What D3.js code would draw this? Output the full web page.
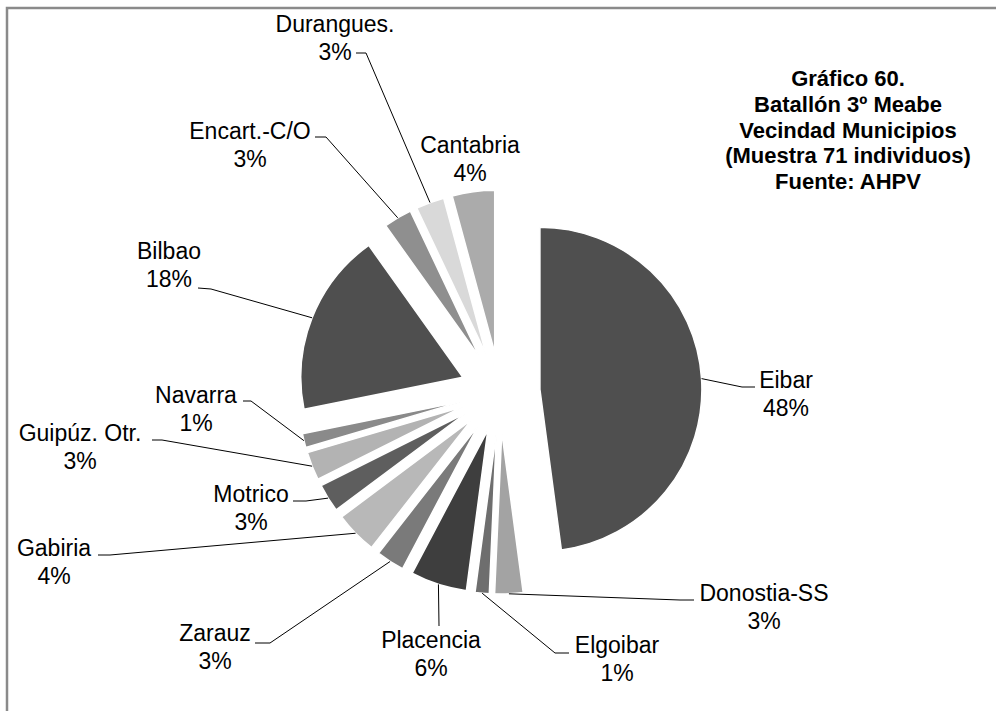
<!DOCTYPE html>
<html>
<head>
<meta charset="utf-8">
<script src="https://cdn.jsdelivr.net/npm/d3@7"></script>
<style>
html,body{margin:0;padding:0;background:#fff;}
svg{display:block;}
text{font-family:"Liberation Sans",Arial,sans-serif;fill:#000;}
</style>
</head>
<body>
<div id="chart"></div>
<script>
// ---- data ----
const categories = ["Eibar","Donostia-SS","Elgoibar","Placencia","Zarauz","Gabiria","Motrico","Guipúz. Otr.","Navarra","Bilbao","Encart.-C/O","Durangues.","Cantabria"];
const counts = [34,2,1,4,2,3,2,2,1,13,2,2,3];
const sliceColors = ["#4f4f4f","#a3a3a3","#6e6e6e","#3e3e3e","#7a7a7a","#b8b8b8","#5e5e5e","#b3b3b3","#8a8a8a","#4f4f4f","#8f8f8f","#d9d9d9","#ababab"];
const titleLines = ["Gráfico 60.","Batallón 3º Meabe","Vecindad Municipios","(Muestra 71 individuos)","Fuente: AHPV"];

// ---- layout (label placement, not data) ----
const labelLayout = [
  {x:786, y:380, elbow:[742,387], end:[755,387]},
  {x:764, y:593, elbow:[680,600], end:[694,600]},
  {x:617, y:645, elbow:[555,653], end:[569,653]},
  {x:431, y:640, elbow:[439,626], end:[439,626]},
  {x:215, y:633, elbow:[270,643], end:[255,643]},
  {x:54,  y:548, elbow:[110,555], end:[98,555]},
  {x:251, y:494, elbow:[306,501], end:[293,501]},
  {x:80,  y:433, elbow:[162,440], end:[152,440]},
  {x:196, y:395, elbow:[251,401], end:[243,401]},
  {x:169, y:251, elbow:[211,289], end:[198,288]},
  {x:250, y:131, elbow:[326,137], end:[315,137]},
  {x:335, y:24,  elbow:[366,53],  end:[356,53]},
  {x:470, y:145, elbow:null, end:null}
];

const W = 996, H = 711;
const cx = 500, cy = 392, R = 162, explode = 40;

const svg = d3.select("#chart").append("svg").attr("width", W).attr("height", H);

// frame
svg.append("rect").attr("x", 7).attr("y", 8).attr("width", W + 20).attr("height", H + 20)
  .attr("fill", "none").attr("stroke", "#8a8a8a").attr("stroke-width", 2.5);

const total = d3.sum(counts);
const pie = d3.pie().sort(null).value(d => d)(counts);
const arc = d3.arc().innerRadius(0).outerRadius(R);

const g = svg.append("g").attr("transform", `translate(${cx},${cy})`);

function offsetOf(d) {
  const m = (d.startAngle + d.endAngle) / 2;
  return [explode * Math.sin(m), -explode * Math.cos(m)];
}

g.selectAll("path.slice").data(pie).enter().append("path")
  .attr("class", "slice")
  .attr("d", arc)
  .attr("transform", d => { const o = offsetOf(d); return `translate(${o[0]},${o[1]})`; })
  .attr("fill", (d, i) => sliceColors[i])
  .attr("stroke", "#fff").attr("stroke-width", 1.5).attr("stroke-linejoin", "round");

// leader lines
pie.forEach((d, i) => {
  const L = labelLayout[i];
  if (!L.elbow) return;
  const m = (d.startAngle + d.endAngle) / 2;
  const o = offsetOf(d);
  const sx = cx + o[0] + R * Math.sin(m);
  const sy = cy + o[1] - R * Math.cos(m);
  svg.append("path")
    .attr("d", d3.line()([[sx, sy], L.elbow, L.end]))
    .attr("fill", "none").attr("stroke", "#000").attr("stroke-width", 1);
});

// labels
const fs = 23, lh = 27.5;
pie.forEach((d, i) => {
  const L = labelLayout[i];
  const t = svg.append("text").attr("text-anchor", "middle").attr("font-size", fs);
  t.append("tspan").attr("x", L.x).attr("y", L.y + 8).text(categories[i]);
  t.append("tspan").attr("x", L.x).attr("y", L.y + 8 + lh).text(Math.round(d.data / total * 100) + "%");
});

// title
const tt = svg.append("text").attr("text-anchor", "middle").attr("font-size", 22).attr("font-weight", "bold");
titleLines.forEach((s, i) => {
  tt.append("tspan").attr("x", 848).attr("y", 86 + i * 25.8).text(s);
});
</script>
</body>
</html>
